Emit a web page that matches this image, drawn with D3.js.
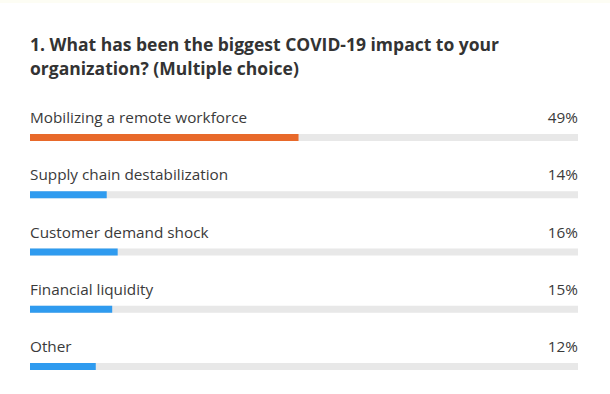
<html>
<head>
  <style>
    body { margin: 0; background: #fff; }
    text { font-family: "Open Sans", sans-serif; }
  </style>
  <script src="https://d3js.org/d3.v7.min.js"></script>
</head>
<body>
<div id="chart"></div>
<script>
  var titleLines = ["1. What has been the biggest COVID-19 impact to your",
                    "organization? (Multiple choice)"];
  var answers = ["Mobilizing a remote workforce", "Supply chain destabilization",
                 "Customer demand shock", "Financial liquidity", "Other"];
  var percents = [49, 14, 16, 15, 12];
  var highlight = [true, false, false, false, false];

  var width = 610, height = 394;
  var svg = d3.select("#chart").append("svg")
    .attr("width", width).attr("height", height);

  svg.append("rect").attr("width", width).attr("height", height).attr("fill", "#fff");
  // faint strip along the top edge
  svg.append("rect").attr("width", width).attr("height", 3).attr("fill", "#fdfdf4");

  svg.selectAll("text.title")
    .data(titleLines)
    .enter().append("text")
      .attr("class", "title")
      .attr("x", 30)
      .attr("y", function (d, i) { return 51 + i * 24; })
      .style("font-size", "17.5px")
      .style("font-weight", "bold")
      .attr("fill", "#333")
      .text(function (d) { return d; });

  var x = d3.scaleLinear().domain([0, 100]).range([30, 578]);
  var y = d3.scalePoint().domain(answers).range([134, 363]);

  var rows = svg.selectAll("g.row")
    .data(answers)
    .enter().append("g")
      .attr("class", "row")
      .attr("transform", function (d) { return "translate(0," + y(d) + ")"; });

  // background track
  rows.append("rect")
    .attr("x", x(0))
    .attr("y", 0)
    .attr("width", x(100) - x(0))
    .attr("height", 7)
    .attr("fill", "#e8e8e8");

  rows.append("rect")
    .attr("x", x(0))
    .attr("y", 0)
    .attr("width", function (d, i) { return x(percents[i]) - x(0); })
    .attr("height", 7)
    .attr("fill", function (d, i) { return highlight[i] ? "#e8692a" : "#2f9bef"; });

  rows.append("text")
    .attr("x", 30)
    .attr("y", -11)
    .style("font-size", "15.3px")
    .attr("fill", "#3a3a3a")
    .text(function (d) { return d; });

  rows.append("text")
    .attr("x", 578)
    .attr("y", -11)
    .attr("text-anchor", "end")
    .style("font-size", "15.3px")
    .attr("fill", "#3a3a3a")
    .text(function (d, i) { return percents[i] + "%"; });
</script>
</body>
</html>
